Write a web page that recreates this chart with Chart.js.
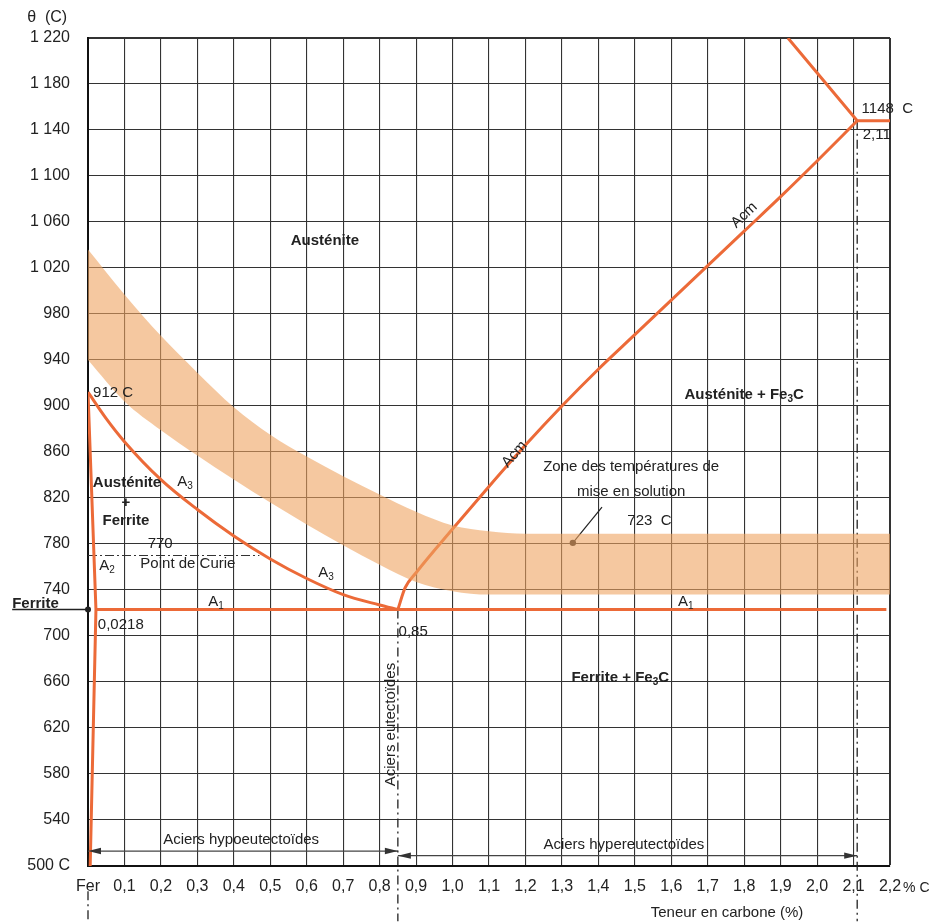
<!DOCTYPE html>
<html><head><meta charset="utf-8">
<script src="https://cdn.jsdelivr.net/npm/chart.js@4.4.1/dist/chart.umd.min.js"></script>
<style>html,body{margin:0;padding:0;background:#fff}#wrap{width:930px;height:924px;position:relative}</style>
</head><body><div id="wrap"><canvas id="c"></canvas></div>
<script>
// ---------- data ----------
const xTickLabels = ['Fer','0,1','0,2','0,3','0,4','0,5','0,6','0,7','0,8','0,9','1,0','1,1','1,2','1,3','1,4','1,5','1,6','1,7','1,8','1,9','2,0','2,1','2,2'];
const yTickLabels = ['500 C','540','580','620','660','700','740','780','820','860','900','940','980','1 020','1 060','1 100','1 140','1 180','1 220'];

const gpCarbon = [0, 0.0218, 0.006];
const gpTemp   = [912, 723, 500];
const a3Carbon = [0, 0.05, 0.1, 0.2, 0.3, 0.4, 0.5, 0.6, 0.7, 0.8, 0.85];
const a3Temp   = [912, 889, 869, 836, 810, 787, 767, 750, 736, 727, 723];
const a1Carbon = [0.0218, 0.85, 2.19];
const a1Temp   = [723, 723, 723];
const acmCarbon = [0.85, 0.87, 0.9, 1.0, 1.1, 1.2, 1.3, 1.4, 1.5, 1.6, 1.7, 1.8, 1.9, 2.0, 2.11];
const acmTemp   = [723, 742, 755, 793, 830, 866, 900, 932, 962, 992, 1022, 1052, 1082, 1113, 1148];
const solidusCarbon = [1.92, 2.11, 2.2];
const solidusTemp   = [1220, 1148, 1148];
const curieCarbon = [0, 0.47];
const curieTemp   = [770, 770];
const bandUpperCarbon = [0, 0.1, 0.2, 0.3, 0.4, 0.5, 0.6, 0.7, 0.8, 0.9, 1.0, 1.1, 1.2, 2.2];
const bandUpperTemp   = [1036, 997, 961, 929, 899, 875, 856, 839, 823, 808, 796, 791, 789, 789];
const bandLowerCarbon = [0, 0.1, 0.2, 0.3, 0.4, 0.5, 0.6, 0.7, 0.8, 0.9, 1.0, 1.1, 2.2];
const bandLowerTemp   = [940, 904, 879, 857, 836, 816, 797, 779, 762, 747, 739, 736, 736];
const eutectoidCarbon = [0.85, 0.85];
const eutectoidTemp   = [723, 452];
const limitCarbon = [2.11, 2.11];
const limitTemp   = [1148, 452];
const ferCarbon = [0, 0];
const ferTemp   = [478, 452];
const ferriteMarkCarbon = [-0.208, 0];
const ferriteMarkTemp   = [723, 723];
const leaderCarbon = [1.41, 1.33];
const leaderTemp   = [812, 781];
const hypoCarbon = [0, 0.85];
const hypoTemp   = [513, 513];
const hyperCarbon = [0.85, 2.11];
const hyperTemp   = [509, 509];

const notes = [
  {t:'912 C', x:0.014, y:911, a:'left'},
  {t:'Austénite', x:0.65, y:1044, b:true},
  {t:'Austénite', x:0.107, y:833, b:true},
  {t:'+', x:0.104, y:816, b:true},
  {t:'Ferrite', x:0.104, y:800, b:true},
  {t:'A_3', x:0.266, y:834},
  {t:'A_3', x:0.653, y:755},
  {t:'770', x:0.198, y:780},
  {t:'Point de Curie', x:0.274, y:763},
  {t:'A_2', x:0.052, y:761},
  {t:'A_1', x:0.351, y:730},
  {t:'0,0218', x:0.027, y:710, a:'left'},
  {t:'0,85', x:0.852, y:704, a:'left'},
  {t:'Acm', x:1.17, y:858, along:true},
  {t:'Acm', x:1.80, y:1066, along:true},
  {t:'Austénite + Fe_3C', x:1.80, y:910, b:true},
  {t:'Zone des températures de', x:1.49, y:847},
  {t:'mise en solution', x:1.49, y:825},
  {t:'723  C', x:1.54, y:800},
  {t:'A_1', x:1.64, y:730},
  {t:'Ferrite + Fe_3C', x:1.46, y:664, b:true},
  {t:'1148  C', x:2.122, y:1158, a:'left'},
  {t:'2,11', x:2.125, y:1136, a:'left'},
  {t:'Aciers eutectoïdes', x:0.83, y:623, rot:-90},
  {t:'Aciers hypoeutectoïdes', x:0.42, y:523},
  {t:'Aciers hypereutectoïdes', x:1.47, y:518},
  {t:'Ferrite', x:-0.208, y:728, a:'left', b:true},
  {t:'Teneur en carbone (%)', x:1.753, y:459},
  {t:'% C', x:2.236, y:481, a:'left', s:14},
  {t:'θ  (C)', x:-0.112, y:1238, s:16}
];

// ---------- helpers ----------
const FONT = '"Liberation Sans", Arial, Helvetica, sans-serif';
const ORANGE = '#ec6a38';
const INK = '#222';
function pts(xs, ys){ return xs.map((x,i)=>({x:x, y:ys[i]})); }

function drawRich(ctx, str, x, y, size, bold, align, rot){
  const parts=[]; let buf='';
  for(let k=0;k<str.length;k++){
    if(str[k]==='_'){ if(buf) parts.push([buf,false]); buf=''; parts.push([str[k+1],true]); k++; }
    else buf+=str[k];
  }
  if(buf) parts.push([buf,false]);
  const mainF=(bold?'bold ':'')+size+'px '+FONT;
  const subF=(bold?'bold ':'')+Math.round(size*0.68)+'px '+FONT;
  let w=0;
  parts.forEach(p=>{ctx.font=p[1]?subF:mainF; w+=ctx.measureText(p[0]).width;});
  ctx.save();
  ctx.translate(x,y);
  if(rot) ctx.rotate(rot*Math.PI/180);
  let sx = align==='left'?0:(align==='right'?-w:-w/2);
  ctx.textBaseline='middle'; ctx.textAlign='left'; ctx.fillStyle=INK;
  parts.forEach(p=>{ctx.font=p[1]?subF:mainF; ctx.fillText(p[0], sx, p[1]?size*0.32:0); sx+=ctx.measureText(p[0]).width;});
  ctx.restore();
}

const annot = {
  id:'annot',
  afterDatasetsDraw(chart){
    const ctx=chart.ctx, xs=chart.scales.x, ys=chart.scales.y;
    chart.data.datasets.forEach((ds,i)=>{
      if(!ds.arrows) return;
      const m=chart.getDatasetMeta(i).data;
      const p0=m[0], p1=m[m.length-1];
      [[p0,p1],[p1,p0]].forEach(h=>{
        const tip=h[0], from=h[1];
        const ang=Math.atan2(tip.y-from.y, tip.x-from.x);
        ctx.save(); ctx.translate(tip.x,tip.y); ctx.rotate(ang);
        ctx.fillStyle='#333'; ctx.beginPath();
        ctx.moveTo(0,0); ctx.lineTo(-13,-3.2); ctx.lineTo(-13,3.2); ctx.closePath(); ctx.fill();
        ctx.restore();
      });
    });
    notes.forEach(n=>{
      const px=xs.getPixelForValue(n.x), py=ys.getPixelForValue(n.y);
      let rot=n.rot||0;
      if(n.along){
        let k=1; while(k<acmCarbon.length-1 && acmCarbon[k]<n.x) k++;
        const ax=xs.getPixelForValue(acmCarbon[k-1]), bx=xs.getPixelForValue(acmCarbon[k]);
        const ay=ys.getPixelForValue(acmTemp[k-1]), by=ys.getPixelForValue(acmTemp[k]);
        rot=Math.atan2(by-ay,bx-ax)*180/Math.PI;
      }
      drawRich(ctx, n.t, px, py, n.s||15, !!n.b, n.a||'center', rot);
    });
  }
};

const isNear=(a,b)=>Math.abs(a-b)<1e-6;
const smooth = {cubicInterpolationMode:'monotone'};

new Chart(document.getElementById('c'), {
  type:'line',
  data:{datasets:[
    Object.assign({data:pts(bandUpperCarbon,bandUpperTemp), fill:'+1', backgroundColor:'rgba(238,163,97,0.6)', borderWidth:0, borderColor:'rgba(0,0,0,0)', pointRadius:0}, smooth),
    Object.assign({data:pts(bandLowerCarbon,bandLowerTemp), fill:false, borderWidth:0, borderColor:'rgba(0,0,0,0)', pointRadius:0}, smooth),
    {data:pts(gpCarbon,gpTemp), borderColor:ORANGE, borderWidth:3, pointRadius:0, fill:false},
    Object.assign({data:pts(a3Carbon,a3Temp), borderColor:ORANGE, borderWidth:3, pointRadius:0, fill:false}, smooth),
    {data:pts(a1Carbon,a1Temp), borderColor:ORANGE, borderWidth:3, pointRadius:0, fill:false},
    Object.assign({data:pts(acmCarbon,acmTemp), borderColor:ORANGE, borderWidth:3, pointRadius:0, fill:false}, smooth),
    {data:pts(solidusCarbon,solidusTemp), borderColor:ORANGE, borderWidth:3, pointRadius:0, fill:false},
    {data:pts(curieCarbon,curieTemp), borderColor:'#333', borderWidth:1.2, borderDash:[9,3,2,3], pointRadius:0, fill:false},
    {data:pts(eutectoidCarbon,eutectoidTemp), borderColor:'#222', borderWidth:1.3, borderDash:[9,4,2,4], pointRadius:0, fill:false, clip:false},
    {data:pts(limitCarbon,limitTemp), borderColor:'#222', borderWidth:1.3, borderDash:[9,4,2,4], pointRadius:0, fill:false, clip:false},
    {data:pts(ferCarbon,ferTemp), borderColor:'#222', borderWidth:1.3, borderDash:[9,4,2,4], pointRadius:0, fill:false, clip:false},
    {data:pts(ferriteMarkCarbon,ferriteMarkTemp), borderColor:'#222', borderWidth:1.5, pointRadius:[0,3], pointBackgroundColor:'#222', pointBorderWidth:0, fill:false, clip:false},
    {data:pts(leaderCarbon,leaderTemp), borderColor:'#222', borderWidth:1.2, pointRadius:[0,3.2], pointBackgroundColor:'#222', pointBorderWidth:0, fill:false},
    {data:pts(hypoCarbon,hypoTemp), borderColor:'#444', borderWidth:1.3, pointRadius:0, fill:false, arrows:true},
    {data:pts(hyperCarbon,hyperTemp), borderColor:'#444', borderWidth:1.3, pointRadius:0, fill:false, arrows:true}
  ]},
  options:{
    responsive:true, maintainAspectRatio:false, animation:false,
    layout:{padding:{left:0, right:40, top:38, bottom:0}},
    plugins:{legend:{display:false}, tooltip:{enabled:false}},
    elements:{line:{tension:0}},
    scales:{
      x:{type:'linear', min:0, max:2.2,
        afterFit(s){ s.height=58; },
        ticks:{stepSize:0.1, autoSkip:false, maxRotation:0, padding:11, color:INK,
          font:{family:FONT, size:16},
          callback:(v,i)=>xTickLabels[i]},
        grid:{color:'#333', drawTicks:false, lineWidth:c=>(c.tick && isNear(c.tick.value,2.2))?2:1.1},
        border:{color:'#111', width:2}
      },
      y:{type:'linear', min:500, max:1220,
        afterFit(s){ s.width=88; },
        ticks:{stepSize:40, autoSkip:false, padding:18, color:INK,
          font:{family:FONT, size:16},
          callback:(v,i)=>yTickLabels[i]},
        grid:{color:'#333', drawTicks:false, lineWidth:c=>(c.tick && isNear(c.tick.value,1220))?2:1.1},
        border:{color:'#111', width:2}
      }
    }
  },
  plugins:[annot]
});
</script>
</body></html>
